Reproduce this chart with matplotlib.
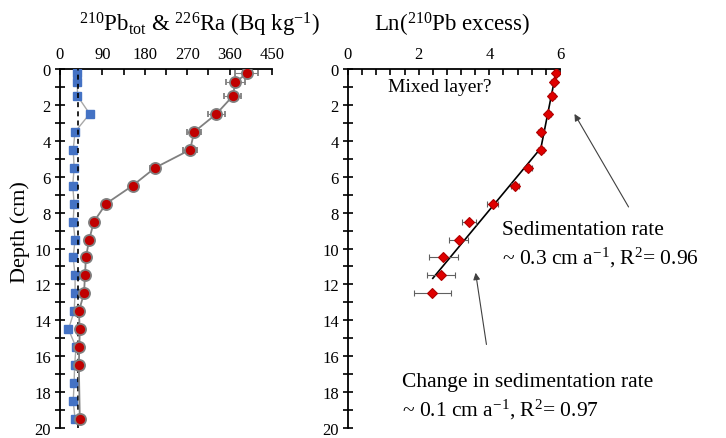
import numpy as np
import matplotlib
matplotlib.use('Agg')
import matplotlib.pyplot as plt
from matplotlib.ticker import MultipleLocator

plt.rcParams['font.family'] = 'Liberation Serif'
plt.rcParams['mathtext.default'] = 'regular'

# 210Pb total (red circles) and 226Ra (blue squares)
pb_depth = [0.25, 0.75, 1.5, 2.5, 3.5, 4.5, 5.5, 6.5, 7.5, 8.5, 9.5, 10.5,
            11.5, 12.5, 13.5, 14.5, 15.5, 16.5, 19.5]
pb_tot = [396, 372, 367, 332, 285, 276, 202, 154, 98, 72, 62, 55,
          53, 51, 40, 42, 41, 40, 42]
pb_err = [25, 20, 18, 18, 15, 15, 10, 8, 6, 5, 5, 4, 4, 4, 3, 3, 3, 3, 3]

ra_depth = [0.25, 0.75, 1.5, 2.5, 3.5, 4.5, 5.5, 6.5, 7.5, 8.5, 9.5, 10.5,
            11.5, 12.5, 13.5, 14.5, 15.5, 16.5, 17.5, 18.5, 19.5]
ra = [37, 37, 37, 63, 32, 28, 30, 27, 30, 28, 32, 28,
      32, 32, 30, 18, 34, 31, 30, 28, 32]
ra_mean = 39

# ln(210Pb excess)
ln_depth = [0.25, 0.75, 1.5, 2.5, 3.5, 4.5, 5.5, 6.5, 7.5, 8.5, 9.5, 10.5, 11.5, 12.5]
ln_pb = [5.90, 5.82, 5.78, 5.67, 5.47, 5.46, 5.10, 4.73, 4.09, 3.43, 3.14, 2.70, 2.63, 2.39]
ln_err = [0.08, 0.08, 0.08, 0.08, 0.08, 0.08, 0.1, 0.12, 0.15, 0.2, 0.27, 0.4, 0.39, 0.53]

# regression lines
fit1_x = [5.90, 5.46]
fit1_d = [0.05, 4.4]
fit2_x = [5.46, 2.40]
fit2_d = [4.4, 11.66]

fig = plt.figure(figsize=(7.26, 4.39), dpi=100)
W, H = 726, 439
ax1 = fig.add_axes([60 / W, 1 - 429 / H, 212 / W, 359 / H])
ax2 = fig.add_axes([348 / W, 1 - 429 / H, 212 / W, 359 / H])

def style(ax, xmax, xmajor, xminor):
    ax.set_ylim(20, 0)
    ax.set_xlim(0, xmax)
    ax.spines['right'].set_visible(False)
    ax.spines['bottom'].set_visible(False)
    ax.spines['left'].set_linewidth(1.3)
    ax.spines['top'].set_linewidth(1.3)
    ax.xaxis.tick_top()
    ax.xaxis.set_major_locator(MultipleLocator(xmajor))
    ax.xaxis.set_minor_locator(MultipleLocator(xminor))
    ax.yaxis.set_major_locator(MultipleLocator(2))
    ax.yaxis.set_minor_locator(MultipleLocator(1))
    ax.tick_params(which='both', width=1.2, labelsize=12)
    ax.tick_params(axis='y', which='both', direction='inout', length=7, pad=3)
    ax.tick_params(axis='x', which='both', direction='in', length=4, pad=5)
    for sp in ['left', 'top']:
        ax.spines[sp].set_clip_on(False)

style(ax1, 450, 90, 45)
style(ax2, 6, 2, 0.4)

ax1.plot(ra, ra_depth, color='#a8a8a8', lw=1, marker='s', ms=5.5,
         mfc='#4472C4', mec='#4472C4', zorder=3)
ax1.axvline(ra_mean, color='black', ls='--', lw=1.2, dashes=(3, 2.5), zorder=3.5)
ax1.errorbar(pb_tot, pb_depth, xerr=pb_err, color='#808080', lw=1.3,
             ecolor='#808080', elinewidth=0.8, capsize=2.5, marker='o', ms=8,
             mfc='#C00000', mec='#808080', mew=1.3, zorder=4)

ax2.plot(fit1_x, fit1_d, color='black', lw=1.2, zorder=2)
ax2.plot(fit2_x, fit2_d, color='black', lw=1.2, zorder=2)
ax2.errorbar(ln_pb, ln_depth, xerr=ln_err, ls='none', ecolor='#606060',
             elinewidth=0.8, capsize=2.5, marker='D', ms=5.5,
             mfc='#E00000', mec='#B00000', mew=0.8, zorder=3)

ax2.text(1.12, 0.99, 'Mixed layer?', fontsize=14, ha='left', va='center')
ax2.text(4.35, 9.77, 'Sedimentation rate\n~ 0.3 cm a$^{-1}$, R$^{2}$= 0.96',
         fontsize=15.5, ha='left', va='center', linespacing=1.3, clip_on=False)
ax2.text(1.52, 18.26, 'Change in sedimentation rate\n~ 0.1 cm a$^{-1}$, R$^{2}$= 0.97',
         fontsize=15.5, ha='left', va='center', linespacing=1.3, clip_on=False)
ax2.annotate('', xy=(6.37, 2.37), xytext=(7.98, 7.82), annotation_clip=False,
             arrowprops=dict(arrowstyle='-|>', color='#404040', lw=0.8,
                             mutation_scale=10))
ax2.annotate('', xy=(3.6, 11.2), xytext=(3.93, 15.5), annotation_clip=False,
             arrowprops=dict(arrowstyle='-|>', color='#404040', lw=0.8,
                             mutation_scale=10))

fig.text(199 / W, 1 - 25 / H, r'$^{210}$Pb$_{tot}$ & $^{226}$Ra (Bq kg$^{-1}$)',
         fontsize=16.5, ha='center', va='center')
fig.text(452 / W, 1 - 25 / H, r'Ln($^{210}$Pb excess)',
         fontsize=16.5, ha='center', va='center')
fig.text(20 / W, 1 - 232 / H, 'Depth (cm)', fontsize=16, rotation=90,
         ha='center', va='center')

fig.savefig('out.png', dpi=100)
